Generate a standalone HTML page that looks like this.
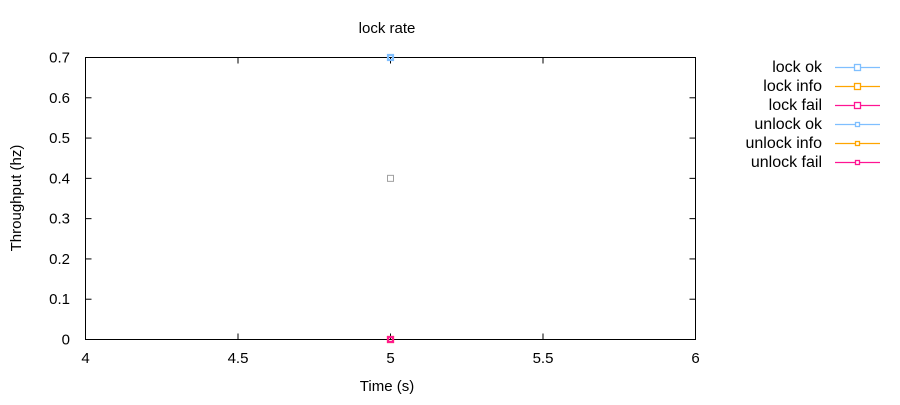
<!DOCTYPE html>
<html><head><meta charset="utf-8"><style>
body{margin:0;background:#fff;font-family:"Liberation Sans",sans-serif}
svg text{font-family:"Liberation Sans",sans-serif;font-size:15px;fill:#000}
svg text.lg{font-size:16px}
</style></head><body>
<svg id="c" width="900" height="400">
<text x="387" y="33" text-anchor="middle">lock rate</text>
<text x="387" y="391" text-anchor="middle">Time (s)</text>
<text transform="translate(21,198) rotate(-90)" text-anchor="middle">Throughput (hz)</text>
<rect x="85.5" y="57.5" width="610" height="282" fill="none" stroke="#000"/>
<g id="ticks"></g><g id="marks"></g><g id="legend"></g>
</svg>
<script>
const xTicks=[4,4.5,5,5.5,6];
const xTickLabels=["4","4.5","5","5.5","6"];
const yTicks=[0,0.1,0.2,0.3,0.4,0.5,0.6,0.7];
const yTickLabels=["0","0.1","0.2","0.3","0.4","0.5","0.6","0.7"];
const seriesNames=["lock ok","lock info","lock fail","unlock ok","unlock info","unlock fail"];
const seriesColors=["#7fbfff","#ffa500","#ff1493","#7fbfff","#ffa500","#ff1493"];
const seriesX=[[5],[5],[5],[5],[5],[5]];
const seriesY=[[0.7],[0],[0],[0.7],[0],[0]];
const extraX=[5];
const extraY=[0.4];
const NS="http://www.w3.org/2000/svg";
const X0=85.5,X1=695.5,Y0=339.5,Y1=57.5;
function sx(v){return X0+(v-4)/2*(X1-X0);}
function sy(v){return Y0-(v/0.7)*(Y0-Y1);}
function mk(t,a,p){const e=document.createElementNS(NS,t);for(const k in a)e.setAttribute(k,a[k]);p.appendChild(e);return e;}
const tg=document.getElementById('ticks');
xTicks.forEach((v,i)=>{
 const x=sx(v);
 const l=mk('line',{x1:x,x2:x,y1:Y0,y2:Y0-6,stroke:'#000'},tg);
 
 
 const l2=mk('line',{x1:x,x2:x,y1:Y1,y2:Y1+6,stroke:'#000'},tg);
 
 
 const t=mk('text',{x:x,y:363,'text-anchor':'middle'},tg);t.textContent=xTickLabels[i];
 
 
});
yTicks.forEach((v,i)=>{
 const y=sy(v);
 const l=mk('line',{x1:X0,x2:X0+6,y1:y,y2:y,stroke:'#000'},tg);
 
 
 const l2=mk('line',{x1:X1,x2:X1-6,y1:y,y2:y,stroke:'#000'},tg);
 
 
 const t=mk('text',{x:70,y:y+5,'text-anchor':'end'},tg);t.textContent=yTickLabels[i];
 
 
});
const mg=document.getElementById('marks');
extraX.forEach((v,i)=>{
 const r=mk('rect',{x:sx(v)-3,y:sy(extraY[i])-3,width:6,height:6,fill:'none',stroke:'#a0a0a0'},mg);
 
 
});
seriesNames.forEach((n,s)=>{
 const sz=s<3?6:4;
 seriesX[s].forEach((v,i)=>{
  const r=mk('rect',{x:sx(v)-sz/2,y:sy(seriesY[s][i])-sz/2,width:sz,height:sz,fill:'none',stroke:seriesColors[s],'stroke-width':1.2},mg);
  
  
 });
});
const lg=document.getElementById('legend');
seriesNames.forEach((n,s)=>{
 const y=67+s*19;
 const t=mk('text',{x:822,y:y+5,'text-anchor':'end','class':'lg'},lg);t.textContent=n;
 
 
 const l=mk('line',{x1:835,x2:880,y1:y+0.5,y2:y+0.5,stroke:seriesColors[s],'stroke-width':1.3},lg);
 
 
 const sz=s<3?6:4;
 const r=mk('rect',{x:857.5-sz/2,y:y+0.5-sz/2,width:sz,height:sz,fill:'#fff',stroke:seriesColors[s],'stroke-width':1.3},lg);
 
 
});
</script>
</body></html>
